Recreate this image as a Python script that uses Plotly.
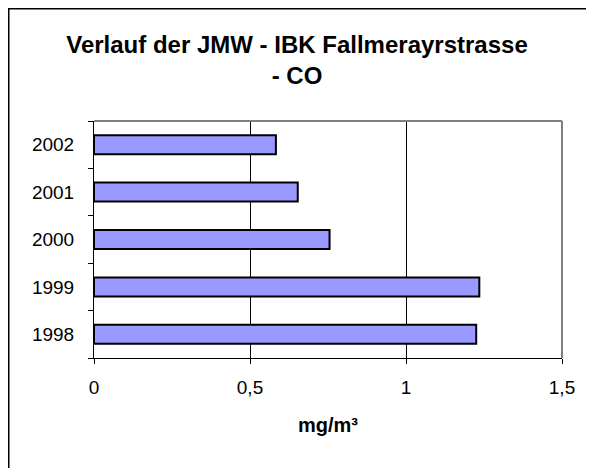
import plotly.graph_objects as go

# JMW CO values, IBK Fallmerayrstrasse
years = ["1998", "1999", "2000", "2001", "2002"]
co_values = [1.225, 1.235, 0.755, 0.653, 0.583]
x_ticks = [0, 0.5, 1, 1.5]
x_tick_labels = ["0", "0,5", "1", "1,5"]

W, H = 594, 468
# page has an 8px body margin, so margins are shifted to compensate
L, R, T, B = 86, 40, 113, 118
PW, PH = W - L - R, H - T - B

fig = go.Figure()

fig.add_trace(go.Bar(
    y=years,
    x=co_values,
    orientation="h",
    marker=dict(color="#9999FF", line=dict(color="black", width=2)),
    width=0.4,
))

font = "Liberation Sans, Arial, sans-serif"

fig.update_layout(
    width=W, height=H,
    margin=dict(l=L, r=R, t=T, b=B),
    paper_bgcolor="white",
    plot_bgcolor="white",
    showlegend=False,
    font=dict(family=font, color="black", size=19),
    title=dict(
        text="<b>Verlauf der JMW - IBK Fallmerayrstrasse<br>- CO</b>",
        x=(297 - 8) / W, xanchor="center",
        y=1 - 45 / H, yref="container", yanchor="middle",
        font=dict(size=24, family=font, color="black"),
    ),
    xaxis=dict(
        range=[0, 1.5],
        tickvals=x_ticks,
        ticktext=x_tick_labels,
        showgrid=True, gridcolor="black", gridwidth=1,
        zeroline=False,
        showline=True, linecolor="black", linewidth=1,
        ticks="outside", ticklen=5, tickcolor="black",
        ticklabelstandoff=7,
        title=dict(text="<b>mg/m³</b>", font=dict(size=20), standoff=21),
    ),
    yaxis=dict(
        type="category",
        categoryorder="array", categoryarray=years,
        showgrid=False, zeroline=False,
        showline=True, linecolor="black", linewidth=1,
        ticks="outside", ticklen=5, tickcolor="black",
        tickson="boundaries",
        ticklabelstandoff=15,
    ),
    shapes=[
        # gray top and right border of the plot area
        dict(type="line", xref="x domain", yref="y domain", x0=0, x1=1, y0=1, y1=1,
             line=dict(color="#808080", width=2), layer="above"),
        dict(type="line", xref="x domain", yref="y domain", x0=1, x1=1, y0=0, y1=1,
             line=dict(color="#808080", width=2), layer="above"),
        # outer chart frame (runs off the right and bottom edges)
        dict(type="rect", xref="paper", yref="paper",
             x0=-L / PW, x1=(W + 10 - L) / PW,
             y0=-(B + 10) / PH, y1=1 + T / PH,
             line=dict(color="black", width=3), layer="above"),
    ],
)

fig.write_html("out.html")
